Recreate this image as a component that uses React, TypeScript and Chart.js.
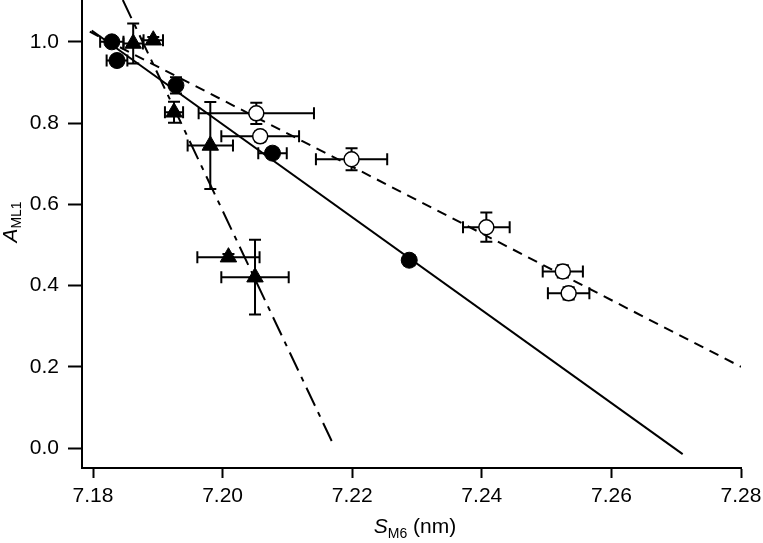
import React, { useEffect, useRef } from "react";
import { Chart, registerables } from "chart.js";

Chart.register(...registerables);

// ---- data ----
const xTicks = [7.18, 7.2, 7.22, 7.24, 7.26, 7.28];
const yTicks = [0, 0.2, 0.4, 0.6, 0.8, 1.0];

const filledX = [7.1829, 7.1837, 7.1928, 7.2077, 7.2288];
const filledY = [1.0, 0.954, 0.893, 0.726, 0.4625];
const filledXErr = [0.0018, 0.0016, 0.0006, 0.0022, 0.0008];
const filledYErr = [0.008, 0.012, 0.02, 0.012, 0.012];

const openX = [7.2052, 7.2058, 7.2199, 7.2407, 7.2525, 7.2534];
const openY = [0.824, 0.7675, 0.711, 0.5437, 0.435, 0.381];
const openXErr = [0.0089, 0.006, 0.0055, 0.0036, 0.0031, 0.0032];
const openYErr = [0.026, 0.012, 0.027, 0.036, 0.015, 0.015];

const triX = [7.1862, 7.1893, 7.1925, 7.1981, 7.2009, 7.205];
const triY = [0.996, 1.004, 0.8266, 0.745, 0.47, 0.4207];
const triXErr = [0.0015, 0.0015, 0.0014, 0.0035, 0.0048, 0.0052];
const triYErr = [0.049, 0.008, 0.026, 0.107, 0.008, 0.092];

const solidLineX = [7.1798, 7.271];
const solidLineY = [1.028, -0.015];
const dashedLineX = [7.1795, 7.28];
const dashedLineY = [1.025, 0.2];
const dashDotLineX = [7.1846, 7.2172];
const dashDotLineY = [1.103, 0.005];

const pts = (xs: number[], ys: number[]) => xs.map((x, i) => ({ x, y: ys[i] }));

const FONT = "'Liberation Sans', Arial, sans-serif";

const errorBarPlugin = {
  id: "errorBars",
  beforeDatasetDraw(chart: any, args: any) {
    const ds: any = chart.data.datasets[args.index];
    if (!ds.errX) return;
    const ctx = chart.ctx;
    const xs = chart.scales.x;
    const ys = chart.scales.y;
    const cap = 6;
    ctx.save();
    ctx.strokeStyle = "#000";
    ctx.lineWidth = 2;
    ds.data.forEach((p: any, i: number) => {
      const px = xs.getPixelForValue(p.x);
      const py = ys.getPixelForValue(p.y);
      const xl = xs.getPixelForValue(p.x - ds.errX[i]);
      const xr = xs.getPixelForValue(p.x + ds.errX[i]);
      const yt = ys.getPixelForValue(p.y + ds.errY[i]);
      const yb = ys.getPixelForValue(p.y - ds.errY[i]);
      ctx.beginPath();
      ctx.moveTo(xl, py);
      ctx.lineTo(xr, py);
      ctx.moveTo(xl, py - cap);
      ctx.lineTo(xl, py + cap);
      ctx.moveTo(xr, py - cap);
      ctx.lineTo(xr, py + cap);
      ctx.moveTo(px, yt);
      ctx.lineTo(px, yb);
      ctx.moveTo(px - cap, yt);
      ctx.lineTo(px + cap, yt);
      ctx.moveTo(px - cap, yb);
      ctx.lineTo(px + cap, yb);
      ctx.stroke();
    });
    ctx.restore();
  },
};

const titlePlugin = {
  id: "titles",
  afterDraw(chart: any) {
    const ctx = chart.ctx;
    ctx.save();
    ctx.fillStyle = "#000";
    ctx.textBaseline = "alphabetic";
    ctx.textAlign = "left";
    // x title
    const fMain = `21px ${FONT}`;
    const fIt = `italic 21px ${FONT}`;
    const fSub = `14px ${FONT}`;
    ctx.font = fIt;
    const wS = ctx.measureText("S").width;
    ctx.font = fSub;
    const wSub = ctx.measureText("M6").width;
    ctx.font = fMain;
    const wRest = ctx.measureText(" (nm)").width;
    const total = wS + wSub + wRest;
    let x0 = 415 - total / 2;
    const base = 533;
    ctx.font = fIt;
    ctx.fillText("S", x0, base);
    x0 += wS;
    ctx.font = fSub;
    ctx.fillText("M6", x0, base + 5);
    x0 += wSub;
    ctx.font = fMain;
    ctx.fillText(" (nm)", x0, base);

    // y title
    ctx.translate(17, 222);
    ctx.rotate(-Math.PI / 2);
    ctx.font = fIt;
    const wA = ctx.measureText("A").width;
    ctx.font = fSub;
    const wML = ctx.measureText("ML1").width;
    let y0 = -(wA + wML) / 2;
    ctx.font = fIt;
    ctx.fillText("A", y0, 0);
    y0 += wA;
    ctx.font = fSub;
    ctx.fillText("ML1", y0, 4);
    ctx.restore();
  },
};

export default function App() {
  const ref = useRef<HTMLCanvasElement>(null);
  useEffect(() => {
    if (!ref.current) return;
    const chart = new Chart(ref.current, {
      type: "scatter",
      data: {
        datasets: [
          {
            label: "filled",
            data: pts(filledX, filledY),
            errX: filledXErr,
            errY: filledYErr,
            pointStyle: "circle",
            pointRadius: 8,
            backgroundColor: "#000",
            borderColor: "#000",
            borderWidth: 1,
            order: 0,
          } as any,
          {
            label: "open",
            data: pts(openX, openY),
            errX: openXErr,
            errY: openYErr,
            pointStyle: "circle",
            pointRadius: 7.5,
            backgroundColor: "#fff",
            borderColor: "#000",
            borderWidth: 1.5,
            order: 0,
          } as any,
          {
            label: "tri",
            data: pts(triX, triY),
            errX: triXErr,
            errY: triYErr,
            pointStyle: "triangle",
            pointRadius: 9.5,
            backgroundColor: "#000",
            borderColor: "#000",
            borderWidth: 1,
            order: 0,
          } as any,
          {
            type: "line",
            label: "solid fit",
            data: pts(solidLineX, solidLineY),
            borderColor: "#000",
            borderWidth: 2,
            pointRadius: 0,
            showLine: true,
            fill: false,
            order: 1,
          } as any,
          {
            type: "line",
            label: "dashed fit",
            data: pts(dashedLineX, dashedLineY),
            borderColor: "#000",
            borderWidth: 2,
            borderDash: [10, 7],
            pointRadius: 0,
            showLine: true,
            fill: false,
            order: 1,
          } as any,
          {
            type: "line",
            label: "dash-dot fit",
            data: pts(dashDotLineX, dashDotLineY),
            borderColor: "#000",
            borderWidth: 2,
            borderDash: [20, 7, 5, 7],
            pointRadius: 0,
            showLine: true,
            fill: false,
            order: 1,
          } as any,
        ],
      },
      options: {
        responsive: false,
        animation: false,
        events: [],
        layout: { autoPadding: false, padding: { left: 0, right: 22, top: 0, bottom: 0 } },
        plugins: { legend: { display: false }, tooltip: { enabled: false } },
        scales: {
          x: {
            type: "linear",
            min: 7.1783,
            max: 7.28,
            afterBuildTicks: (s: any) => {
              s.ticks = xTicks.map((v) => ({ value: v }));
            },
            afterFit: (s: any) => {
              s.height = 75;
              s.paddingLeft = 0;
              s.paddingRight = 0;
            },
            ticks: {
              color: "#000",
              font: { family: FONT, size: 21 },
              padding: 6,
              maxRotation: 0,
              autoSkip: false,
              callback: (v: any) => Number(v).toFixed(2),
            },
            grid: {
              display: true,
              drawOnChartArea: false,
              drawTicks: true,
              tickLength: 10,
              tickWidth: 2,
              tickColor: "#000",
            },
            border: { display: true, color: "#000", width: 2 },
          },
          y: {
            type: "linear",
            min: -0.049,
            max: 1.103,
            afterBuildTicks: (s: any) => {
              s.ticks = yTicks.map((v) => ({ value: v }));
            },
            afterFit: (s: any) => {
              s.width = 82;
              s.paddingTop = 0;
              s.paddingBottom = 0;
            },
            ticks: {
              color: "#000",
              font: { family: FONT, size: 21 },
              padding: 9,
              autoSkip: false,
              callback: (v: any) => Number(v).toFixed(1),
            },
            grid: {
              display: true,
              drawOnChartArea: false,
              drawTicks: true,
              tickLength: 14,
              tickWidth: 2,
              tickColor: "#000",
            },
            border: { display: true, color: "#000", width: 2 },
          },
        },
      },
      plugins: [errorBarPlugin, titlePlugin],
    } as any);
    return () => chart.destroy();
  }, []);
  return (
    <div style={{ position: "fixed", left: 0, top: 0, width: 763, height: 543, background: "#fff" }}>
      <canvas ref={ref} width={763} height={543} style={{ display: "block" }} />
    </div>
  );
}
